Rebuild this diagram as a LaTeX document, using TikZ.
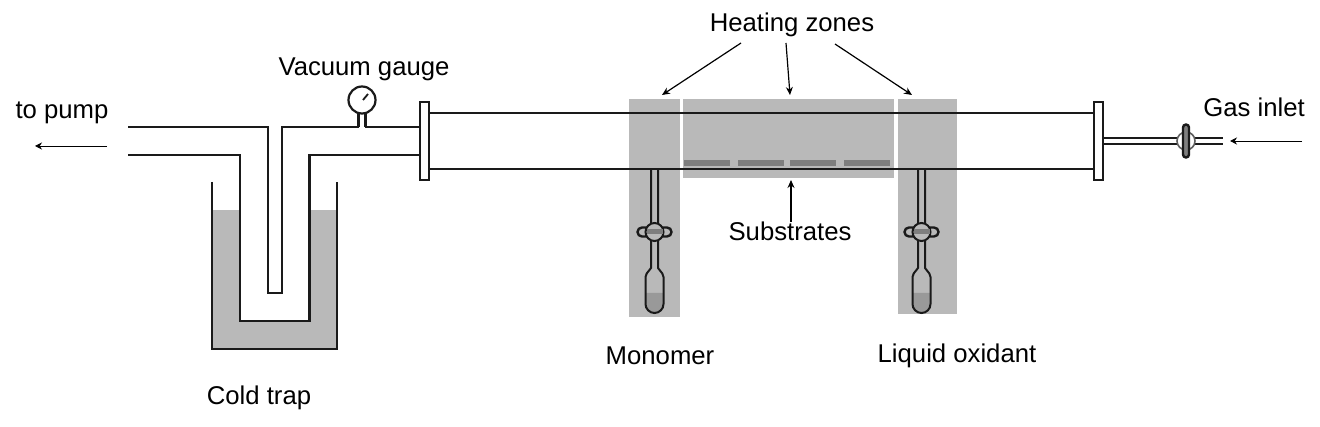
\documentclass[tikz,border=0pt]{standalone}
\usepackage{fontspec}
\setmainfont{Liberation Sans}
\usetikzlibrary{arrows.meta}
\definecolor{lineDark}{HTML}{1A1A1A}
\definecolor{zoneGray}{HTML}{B9B9B9}
\definecolor{plateGray}{HTML}{7E7E7E}
\definecolor{fluidGray}{HTML}{999999}
\begin{document}
\begin{tikzpicture}[
  x=1pt, y=-1pt,
  label/.style={font=\fontsize{25.7}{30}\selectfont, text=black, inner sep=0pt},
  tube/.style={draw=lineDark, line width=2.3pt},
  thin tube/.style={draw=lineDark, line width=2pt},
  zone/.style={fill=zoneGray, inner sep=0pt, anchor=north west},
  plate/.style={fill=plateGray, inner sep=0pt, anchor=north west, minimum width=46pt, minimum height=6pt},
  flange/.style={rectangle, draw=lineDark, fill=white, line width=2.2pt, inner sep=0pt, minimum width=8.5pt, minimum height=78pt},
  gauge/.style={circle, draw=lineDark, fill=white, line width=2.2pt, inner sep=0pt, minimum size=27pt},
  handle/.style={rectangle, rounded corners=4.5pt, draw=lineDark, line width=2.4pt, inner sep=0pt},
  cock/.style={circle, draw=lineDark, line width=2pt, inner sep=0pt, minimum size=18pt},
  arrow/.style={-{Stealth[length=8pt, width=7pt]}, line width=1.2pt, draw=black},
  small arrow/.style={-{Stealth[length=7pt, width=7pt]}, line width=0.8pt, draw=black}
]
\useasboundingbox (0,0) rectangle (1320,427);
\fill[white] (0,0) rectangle (1320,427);
% heated regions
\node[zone, minimum width=51pt, minimum height=218pt] (zoneleft) at (629,99) {};
\node[zone, minimum width=211pt, minimum height=79pt] (zonemid) at (683,99) {};
\node[zone, minimum width=59pt, minimum height=215pt] (zoneright) at (898,99) {};
\foreach \px [count=\i] in {684,738,790,844}
  \node[plate] (plate\i) at (\px,160) {};
% cold trap
\fill[zoneGray] (212,210) rectangle (337,349);
\fill[white] (240,200) rectangle (309.5,321);
\draw[tube] (212,182) -- (212,349) -- (337,349) -- (337,182);
\draw[tube] (128,127) -- (268,127) -- (268,293) -- (282,293) -- (282,127) -- (420,127);
\draw[tube] (128,155) -- (240,155) -- (240,321) -- (309.5,321) -- (309.5,155) -- (420,155);
% main tube
\draw[tube] (424,113) -- (1098,113);
\draw[tube] (424,169) -- (1098,169);
\node[flange] (flangeleft) at (424.5,141) {};
\node[flange] (flangeright) at (1098.5,141) {};
% gauge
\fill[white] (359,120) rectangle (365,129);
\draw[tube] (358.5,127) -- (358.5,110) (365.5,127) -- (365.5,110);
\node[gauge] (vacgauge) at (362,100) {};
\draw[line width=1.8pt, draw=lineDark] (vacgauge.center) ++(1,0) -- (368,94);
% ampoules with stopcocks
\foreach \ax/\name in {654.5/cockleft,921.5/cockright} {
  \fill[fluidGray, rounded corners=9pt] (\ax-9,293) -- (\ax-9,313) -- (\ax+9,313) [sharp corners] -- (\ax+9,293) -- cycle;
  \draw[thin tube] (\ax-3.5,169) -- (\ax-3.5,268) [rounded corners=2pt] -- (\ax-9,275) [rounded corners=9pt] -- (\ax-9,313) -- (\ax+9,313) [rounded corners=2pt] -- (\ax+9,275) [sharp corners] -- (\ax+3.5,268) -- (\ax+3.5,169);
  \node[handle, fill=zoneGray, minimum width=34pt, minimum height=9pt] (\name h) at (\ax,232) {};
  \node[cock, fill=zoneGray] (\name) at (\ax,232) {};
  \fill[plateGray] (\ax-8,229.5) rectangle (\ax+8,234.5);
}
% inlet line
\draw[thin tube] (1103,138) -- (1223,138);
\draw[thin tube] (1103,144) -- (1223,144);
\node[cock, fill=white, draw=lineDark!70, line width=1.6pt] (cockgas) at (1186,141) {};
\node[handle, fill=plateGray, minimum width=6pt, minimum height=33pt, rounded corners=3pt] (cockgash) at (1186,141) {};
% labels
\node[label] (heating) at (792,25) {Heating zones};
\node[label] (vaclabel) at (364,69.5) {Vacuum gauge};
\node[label] (pump) at (62,112.5) {to pump};
\node[label] (inlet) at (1254,107.5) {Gas inlet};
\node[label] (substrates) at (790,231.5) {Substrates};
\node[label] (monomer) at (660,355.5) {Monomer};
\node[label] (oxidant) at (957,355.5) {Liquid oxidant};
\node[label] (trap) at (259,397.5) {Cold trap};
% arrows
\coordinate (pumpa) at (107,146);
\coordinate (pumpb) at (35,146);
\coordinate (inleta) at (1302,141);
\coordinate (inletb) at (1230,141);
\coordinate (hotleft) at (662,95);
\coordinate (hotmid) at (790,95);
\coordinate (hotright) at (912,95);
\coordinate (heatl) at (741,43);
\coordinate (heatm) at (786,43);
\coordinate (heatr) at (835,44);
\coordinate (subtop) at (791,180);
\draw[arrow] (heatl) -- (hotleft);
\draw[arrow] (heatm) -- (hotmid);
\draw[arrow] (heatr) -- (hotright);
\draw[arrow] (substrates.north -| subtop) -- (subtop);
\draw[small arrow] (pumpa) -- (pumpb);
\draw[small arrow] (inleta) -- (inletb);
\end{tikzpicture}
\end{document}
